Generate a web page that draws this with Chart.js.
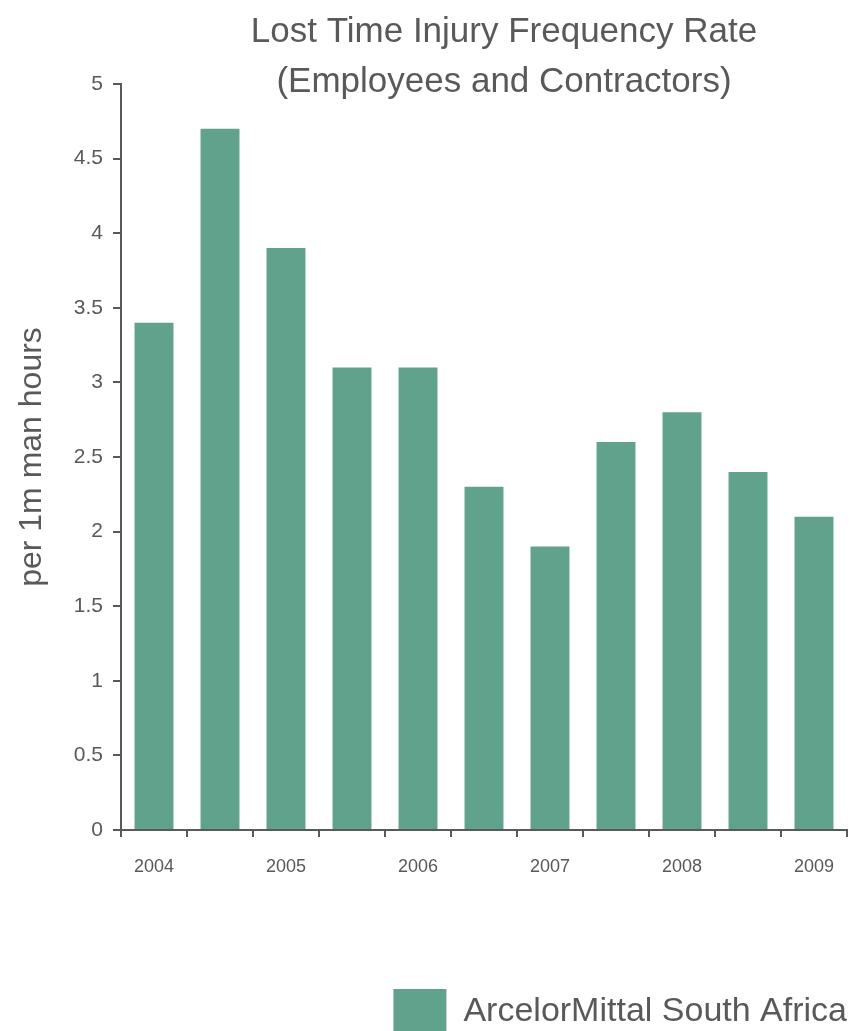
<!DOCTYPE html>
<html lang="en">
<head>
    <meta charset="UTF-8">
    <title>Lost Time Injury Frequency Rate</title>
    <script src="https://cdn.jsdelivr.net/npm/chart.js"></script>
    <style>
        html, body { margin: 0; padding: 0; background: #fff; overflow: hidden; }
        canvas { display: block; }
    </style>
</head>
<body>
    <canvas id="ltifrChart" width="864" height="1044"></canvas>

    <script>
        // data
        const titleLines = ['Lost Time Injury Frequency Rate', '(Employees and Contractors)'];
        const xLabels = ['2004', '', '2005', '', '2006', '', '2007', '', '2008', '', '2009'];
        const ltifr = [3.4, 4.7, 3.9, 3.1, 3.1, 2.3, 1.9, 2.6, 2.8, 2.4, 2.1];
        const seriesName = 'ArcelorMittal South Africa';
        const yTitle = 'per 1m man hours';

        const textColor = '#58595b';
        const barColor = '#61a28c';
        const fontFamily = '"Liberation Sans", Arial, sans-serif';

        // two line title, centred a bit right of the canvas like the original
        const titlePlugin = {
            id: 'twoLineTitle',
            afterDraw(chart) {
                const ctx = chart.ctx;
                ctx.save();
                ctx.font = '35px ' + fontFamily;
                ctx.fillStyle = textColor;
                ctx.textAlign = 'center';
                ctx.textBaseline = 'alphabetic';
                ctx.fillText(titleLines[0], 504, 42);
                ctx.fillText(titleLines[1], 504, 92);
                ctx.restore();
            }
        };

        const ctx = document.getElementById('ltifrChart').getContext('2d');
        const chart = new Chart(ctx, {
            type: 'bar',
            data: {
                labels: xLabels,
                datasets: [{
                    label: seriesName,
                    data: ltifr,
                    backgroundColor: barColor,
                    borderWidth: 0,
                    categoryPercentage: 1,
                    barPercentage: 0.59
                }]
            },
            options: {
                responsive: false,
                animation: false,
                devicePixelRatio: 1,
                layout: {
                    padding: { top: 84, right: 17, left: 0, bottom: 0 }
                },
                plugins: {
                    title: { display: false },
                    tooltip: { enabled: false },
                    legend: {
                        position: 'bottom',
                        align: 'end',
                        labels: {
                            boxWidth: 53,
                            boxHeight: 45,
                            padding: 0,
                            color: textColor,
                            font: { family: fontFamily, size: 34 }
                        }
                    }
                },
                scales: {
                    x: {
                        afterFit: (scale) => { scale.height = 159; },
                        border: { display: true, color: textColor, width: 2 },
                        grid: {
                            offset: true,
                            drawOnChartArea: false,
                            drawTicks: true,
                            tickLength: 7,
                            color: textColor,
                            lineWidth: 2
                        },
                        ticks: {
                            autoSkip: false,
                            maxRotation: 0,
                            padding: 19,
                            color: textColor,
                            font: { family: fontFamily, size: 18 }
                        }
                    },
                    y: {
                        min: 0,
                        max: 5,
                        afterFit: (scale) => { scale.width = 121; },
                        border: { display: true, color: textColor, width: 2 },
                        grid: {
                            drawOnChartArea: false,
                            drawTicks: true,
                            tickLength: 8,
                            color: textColor,
                            lineWidth: 2
                        },
                        ticks: {
                            stepSize: 0.5,
                            padding: 10,
                            color: textColor,
                            font: { family: fontFamily, size: 21 },
                            callback: (value) => String(value)
                        },
                        title: {
                            display: true,
                            text: yTitle,
                            color: textColor,
                            padding: { top: 13, bottom: 0 },
                            font: { family: fontFamily, size: 32 }
                        }
                    }
                }
            },
            plugins: [titlePlugin]
        });
    </script>
</body>
</html>
